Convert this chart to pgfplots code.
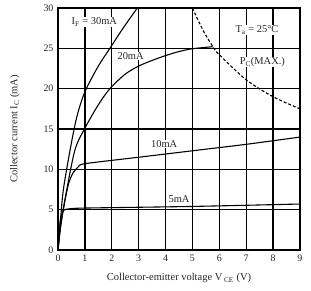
\documentclass[border=0pt]{standalone}
\usepackage{pgfplots}
\pgfplotsset{compat=1.18}
\usepackage{fontspec}
\setmainfont{Liberation Serif}
\begin{document}
\begin{tikzpicture}
\useasboundingbox (0,0) rectangle (311bp,291bp);
\begin{axis}[
  anchor=south west, at={(58bp,41bp)},
  scale only axis, width=242bp, height=242bp,
  xmin=0, xmax=9, ymin=0, ymax=30,
  xtick={0,1,...,9}, ytick={0,5,...,30},
  grid=major, major grid style={black, line width=1.3pt},
  axis line style={black, line width=1.4pt},
  major tick length=0pt,
  tick label style={font=\fontsize{10}{12}\selectfont, text=black!85},
  /pgf/number format/assume math mode=true,
  xticklabel style={yshift=-1bp},
  yticklabel style={xshift=-1bp},
  xlabel={Collector-emitter voltage V\,$_{\mathrm{CE}}$ (V)},
  ylabel={Collector current I$_{\mathrm{C}}$ (mA)},
  label style={font=\fontsize{10.5}{12}\selectfont, text=black!85},
  xlabel style={at={(axis description cs:0.5,-0.116)}, anchor=center},
  ylabel style={at={(axis description cs:-0.178,0.5)}, anchor=center},
  clip=true,
]
% IF = 30 mA
\addplot[black, line width=1.1pt, smooth, tension=0.5] coordinates {
(0,0) (0.1,4) (0.2,7.5) (0.45,12.4) (0.7,16.5) (1,19.6) (1.5,22.8) (1.93,25) (2.4,27.4) (2.95,30)};
% 20 mA
\addplot[black, line width=1.1pt, smooth, tension=0.5] coordinates {
(0,0) (0.1,3) (0.3,7) (0.63,12.4) (1,15.1) (1.5,18) (1.93,20) (2.5,21.8) (3,22.8) (3.5,23.5) (4,24.1) (4.5,24.6) (5,24.95) (5.75,25.2)};
% 10 mA
\addplot[black, line width=1.1pt, smooth, tension=0.4] coordinates {
(0,0) (0.1,3) (0.25,6) (0.4,8.3) (0.55,9.5) (0.75,10.3) (1,10.7) (3,11.5) (5,12.3) (7,13.1) (9,14.0)};
% 5 mA
\addplot[black, line width=1.1pt, smooth, tension=0.4] coordinates {
(0,0) (0.05,2.5) (0.1,4) (0.2,4.9) (0.4,5.1) (1,5.2) (5,5.4) (9,5.7)};
% PC(MAX)
\addplot[black, line width=1.1pt, dash pattern=on 3pt off 2pt, smooth] coordinates {
(5,30) (5.4,27.2) (5.8,25) (6,24.2) (7,21.1) (8,19) (9,17.5)};
\node[font=\fontsize{10.5}{12}\selectfont, fill=white, inner sep=0.5pt, text=black!85] at (axis cs:1.35,28.3) {I$_{\mathrm{F}}$ = 30mA};
\node[font=\fontsize{10.5}{12}\selectfont, fill=white, inner sep=0.5pt, text=black!85] at (axis cs:2.7,24.0) {20mA};
\node[font=\fontsize{10.5}{12}\selectfont, fill=white, inner sep=0.5pt, text=black!85] at (axis cs:3.95,13.1) {10mA};
\node[font=\fontsize{10.5}{12}\selectfont, fill=white, inner sep=0.5pt, text=black!85] at (axis cs:4.5,6.3) {5mA};
\node[font=\fontsize{10.5}{12}\selectfont, fill=white, inner sep=0.5pt, text=black!85] at (axis cs:7.4,27.3) {T$_{\mathrm{a}}$ = 25\textdegree C};
\node[font=\fontsize{10.5}{12}\selectfont, fill=white, inner sep=0.5pt, text=black!85] at (axis cs:7.6,23.3) {P$_{\mathrm{C}}$(MAX.)};
\end{axis}
\end{tikzpicture}
\end{document}
